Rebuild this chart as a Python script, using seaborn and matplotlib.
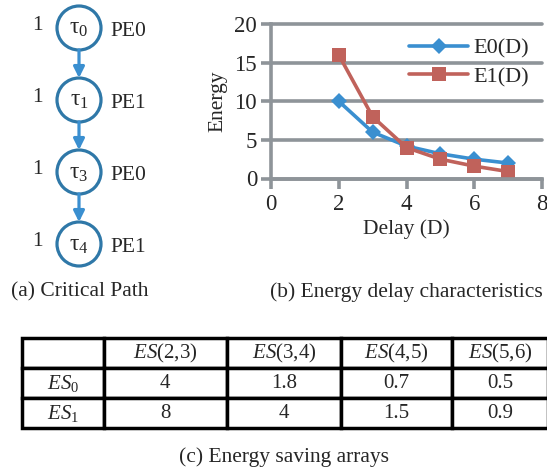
import matplotlib
matplotlib.use("Agg")
import matplotlib.pyplot as plt
from matplotlib.patches import Circle
import pandas as pd
import seaborn as sns

# Energy / delay characteristics of the two processing elements
delay = [2, 3, 4, 5, 6, 7]
energy_e0 = [10, 6, 4.2, 3.2, 2.5, 2.0]
energy_e1 = [16, 8, 4, 2.5, 1.6, 0.9]
series_names = ["E0(D)", "E1(D)"]

# Critical path: task index, assigned PE, weight
path_tasks = ["0", "1", "3", "4"]
path_pes = ["PE0", "PE1", "PE0", "PE1"]
path_weights = ["1", "1", "1", "1"]

# Energy saving arrays
es_columns = ["(2,3)", "(3,4)", "(4,5)", "(5,6)"]
es_rows = ["0", "1"]
es0 = ["4", "1.8", "0.7", "0.5"]
es1 = ["8", "4", "1.5", "0.9"]

BLUE = "#3A8FD0"
RED = "#C0625B"
GRAY = "#8E9499"
NODE_EDGE = "#2F78A8"

sns.set_style("white")
plt.rcParams["font.family"] = ["Liberation Serif", "DejaVu Serif"]
plt.rcParams["mathtext.fontset"] = "custom"
plt.rcParams["mathtext.rm"] = "Liberation Serif"
plt.rcParams["mathtext.it"] = "Liberation Serif:italic"
plt.rcParams["mathtext.bf"] = "Liberation Serif:bold"

FS = 15.5
W, H = 547, 470
fig = plt.figure(figsize=(W / 100, H / 100), dpi=100)

# ---- (b) energy vs delay line chart ----
ax = fig.add_axes([271 / W, 1 - 178.5 / H, 271 / W, 154.5 / H])
df = pd.DataFrame({
    "Delay (D)": delay + delay,
    "Energy": energy_e0 + energy_e1,
    "series": [series_names[0]] * len(delay) + [series_names[1]] * len(delay),
})
sns.lineplot(data=df, x="Delay (D)", y="Energy", hue="series", style="series",
             markers={series_names[0]: "D", series_names[1]: "s"}, dashes=False,
             palette={series_names[0]: BLUE, series_names[1]: RED},
             linewidth=2.6, markeredgewidth=0, ax=ax)
for line, ms in zip(ax.lines[:2], [8.5, 10]):
    line.set_markersize(ms)

ax.set_xlim(0, 8)
ax.set_ylim(0, 20)
ax.set_xticks(range(0, 9, 2))
ax.set_yticks(range(0, 21, 5))
ax.yaxis.grid(True, color=GRAY, linewidth=2.6)
ax.xaxis.grid(False)
for gl in ax.get_ygridlines():
    gl.set_clip_on(False)
ax.set_axisbelow(True)
for s in ["top", "right"]:
    ax.spines[s].set_visible(False)
for s in ["left", "bottom"]:
    ax.spines[s].set_color(GRAY)
    ax.spines[s].set_linewidth(2.6)
ax.tick_params(axis="both", length=7, width=2.6, color=GRAY, labelsize=16.5, pad=3,
               left=True, bottom=True)
ax.tick_params(axis="x", pad=4)
ax.set_xlabel("Delay (D)", fontsize=FS, labelpad=3)
ax.set_ylabel("Energy", fontsize=FS, labelpad=5)

handles, labels = ax.get_legend_handles_labels()
for h, ms in zip(handles, [8.5, 10]):
    h.set_markersize(ms)
    h.set_linewidth(2.6)
    h.set_markeredgewidth(0)
ax.legend(handles, labels, frameon=False, loc="center",
          bbox_to_anchor=(0.7306, 0.7495), handlelength=2.65, handletextpad=0.22,
          labelspacing=0.36, fontsize=16)

# ---- overlay for the critical path diagram, table and captions ----
ov = fig.add_axes([0, 0, 1, 1])
ov.set_xlim(0, W)
ov.set_ylim(H, 0)
ov.axis("off")

cx, r = 79, 22
node_top, node_gap = 28, 72
n = len(path_tasks)
for i, (t, pe, w) in enumerate(zip(path_tasks, path_pes, path_weights)):
    cy = node_top + i * node_gap
    ov.add_patch(Circle((cx, cy), r, facecolor="white", edgecolor=NODE_EDGE, lw=2.3))
    ov.text(cx, cy + 1, r"$\mathrm{\tau}_{" + t + "}$", ha="center", va="center", fontsize=17)
    ov.text(37, cy - 3, w, ha="center", va="center", fontsize=FS)
    ov.text(cx + r + 9, cy + 3, pe, ha="left", va="center", fontsize=FS)
    if i < n - 1:
        ny = node_top + (i + 1) * node_gap
        ov.annotate("", xy=(cx, ny - r), xytext=(cx, cy + r),
                    arrowprops=dict(arrowstyle="-|>", color=BLUE, lw=2.3,
                                    mutation_scale=16, shrinkA=0, shrinkB=0))

# ---- (c) energy saving table ----
cell_text = [[""] + [r"$\mathit{ES}$" + c for c in es_columns],
             [r"$\mathit{ES}_{" + es_rows[0] + "}$"] + es0,
             [r"$\mathit{ES}_{" + es_rows[1] + "}$"] + es1]
col_px = [82.3, 122.6, 114.4, 111, 96]
tx0, tx1, ty0, ty1 = 21.7, 548, 338, 428
tab = ov.table(cellText=cell_text, cellLoc="center",
               colWidths=[c / sum(col_px) for c in col_px],
               bbox=[tx0 / W, 1 - ty1 / H, (tx1 - tx0) / W, (ty1 - ty0) / H])
tab.auto_set_font_size(False)
tab.set_fontsize(15)
for cell in tab.get_celld().values():
    cell.set_linewidth(2.5)
    cell.set_edgecolor("black")

# ---- captions ----
ov.text(80, 292, "(a) Critical Path", ha="center", va="center", fontsize=FS)
ov.text(406, 292, "(b) Energy delay characteristics", ha="center", va="center", fontsize=FS)
ov.text(284, 457, "(c) Energy saving arrays", ha="center", va="center", fontsize=FS)

fig.savefig("out.png", dpi=100)
